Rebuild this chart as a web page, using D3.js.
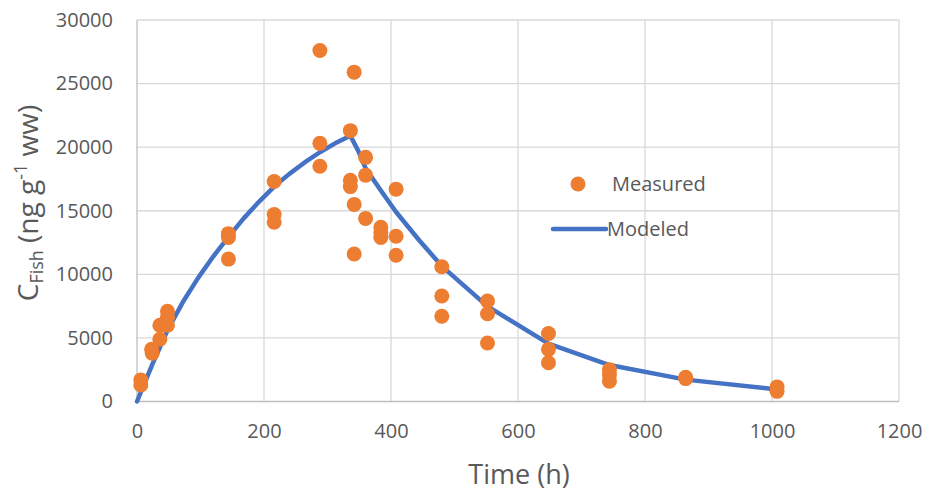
<!DOCTYPE html>
<html>
<head>
<meta charset="utf-8">
<script src="https://cdn.jsdelivr.net/npm/d3@7"></script>
<style>
  body { margin: 0; background: #fff; }
  svg { display: block; font-family: "Open Sans", sans-serif; }
</style>
</head>
<body>
<svg id="chart" width="928" height="493"></svg>
<script>
// Measured concentrations (time in h, ng/g ww)
const measuredTime = [6, 6, 23, 24, 36, 36, 42, 48, 48, 48,
  144, 144, 144, 216, 216, 216, 288, 288, 288,
  336, 336, 336, 342, 342, 342, 360, 360, 360,
  384, 384, 384, 408, 408, 408, 480, 480, 480,
  552, 552, 552, 648, 648, 648, 744, 744, 744,
  864, 864, 1008, 1008];
const measuredConc = [1700, 1300, 4100, 3800, 4900, 6000, 6100, 7100, 6600, 6000,
  13200, 12900, 11200, 17300, 14700, 14100, 27600, 20300, 18500,
  21300, 17400, 16900, 25900, 15500, 11600, 19200, 17800, 14400,
  13700, 13300, 12900, 16700, 13000, 11500, 10600, 8300, 6700,
  7900, 6900, 4600, 5350, 4100, 3050, 2500, 2100, 1600,
  1900, 1800, 1150, 800];

// Modeled curve
const modelTime = [0, 24, 48, 72, 96, 120, 144, 168, 192, 216, 240, 264, 288, 312, 336,
  348, 360, 384, 408, 444, 480, 552, 648, 744, 864, 1008];
const modelConc = [0, 2900, 5600, 7800, 9700, 11400, 12950, 14400, 15700, 16900, 17900, 18800, 19600, 20300, 20900,
  19750, 18350, 16600, 14900, 12700, 10650, 7480, 4550, 2870, 1720, 950];

const xTicks = [0, 200, 400, 600, 800, 1000, 1200];
const yTicks = [0, 5000, 10000, 15000, 20000, 25000, 30000];

const svg = d3.select("#chart");
const x = d3.scaleLinear().domain([0, 1200]).range([137, 899]);
const y = d3.scaleLinear().domain([0, 30000]).range([401.5, 20]);

// gridlines
svg.append("g").selectAll("line.hg")
  .data(yTicks.filter(d => d > 0))
  .join("line")
  .attr("x1", x(0)).attr("x2", x(1200))
  .attr("y1", d => y(d)).attr("y2", d => y(d))
  .attr("stroke", "#d9d9d9").attr("stroke-width", 1.3);

svg.append("g").selectAll("line.vg")
  .data(xTicks.filter(d => d > 0))
  .join("line")
  .attr("x1", d => x(d)).attr("x2", d => x(d))
  .attr("y1", y(0)).attr("y2", y(30000))
  .attr("stroke", "#d9d9d9").attr("stroke-width", 1.3);

// axis lines
svg.append("line")
  .attr("x1", x(0)).attr("x2", x(0)).attr("y1", y(0)).attr("y2", y(30000))
  .attr("stroke", "#bfbfbf").attr("stroke-width", 1.3);
svg.append("line")
  .attr("x1", x(0)).attr("x2", x(1200)).attr("y1", y(0)).attr("y2", y(0))
  .attr("stroke", "#bfbfbf").attr("stroke-width", 1.3);

// tick labels via d3 axes
const xAxis = svg.append("g")
  .attr("transform", `translate(0,${y(0)})`)
  .call(d3.axisBottom(x).tickValues(xTicks).tickSize(0).tickPadding(22).tickFormat(d3.format("d")));
const yAxis = svg.append("g")
  .attr("transform", `translate(${x(0)},0)`)
  .call(d3.axisLeft(y).tickValues(yTicks).tickSize(0).tickPadding(24).tickFormat(d3.format("d")));
[xAxis, yAxis].forEach(g => {
  g.select(".domain").remove();
  g.selectAll("text")
    .attr("fill", "#595959")
    .style("font-size", "20px")
    .style("font-family", "'Open Sans', sans-serif");
});

// modeled line
const line = d3.line()
  .x((d, i) => x(modelTime[i]))
  .y(d => y(d));
svg.append("path")
  .datum(modelConc)
  .attr("d", line)
  .attr("fill", "none")
  .attr("stroke", "#4472C4")
  .attr("stroke-width", 4.5)
  .attr("stroke-linejoin", "round")
  .attr("stroke-linecap", "round");

// measured points
svg.append("g").selectAll("circle")
  .data(measuredConc)
  .join("circle")
  .attr("cx", (d, i) => x(measuredTime[i]))
  .attr("cy", d => y(d))
  .attr("r", 7.5)
  .attr("fill", "#ED7D31");

// axis titles
svg.append("text")
  .attr("x", 519).attr("y", 484)
  .attr("text-anchor", "middle")
  .attr("fill", "#595959")
  .style("font-size", "27px")
  .text("Time (h)");

const yt = svg.append("text")
  .attr("transform", "translate(38,203) rotate(-90)")
  .attr("text-anchor", "middle")
  .attr("fill", "#595959")
  .style("font-size", "28px");
yt.append("tspan").text("C");
yt.append("tspan").attr("dy", 5).style("font-size", "18px").text("Fish");
yt.append("tspan").attr("dy", -5).text(" (ng g");
yt.append("tspan").attr("dy", -11).style("font-size", "18px").text("-1");
yt.append("tspan").attr("dy", 11).text(" ww)");

// legend
const leg = svg.append("g");
leg.append("circle").attr("cx", 578).attr("cy", 184).attr("r", 7.5).attr("fill", "#ED7D31");
leg.append("text").attr("x", 612).attr("y", 191).attr("fill", "#595959")
  .style("font-size", "20px").text("Measured");
leg.append("line").attr("x1", 553).attr("x2", 606).attr("y1", 229).attr("y2", 229)
  .attr("stroke", "#4472C4").attr("stroke-width", 4.5).attr("stroke-linecap", "round");
leg.append("text").attr("x", 607).attr("y", 236).attr("fill", "#595959")
  .style("font-size", "20px").text("Modeled");
</script>
</body>
</html>
